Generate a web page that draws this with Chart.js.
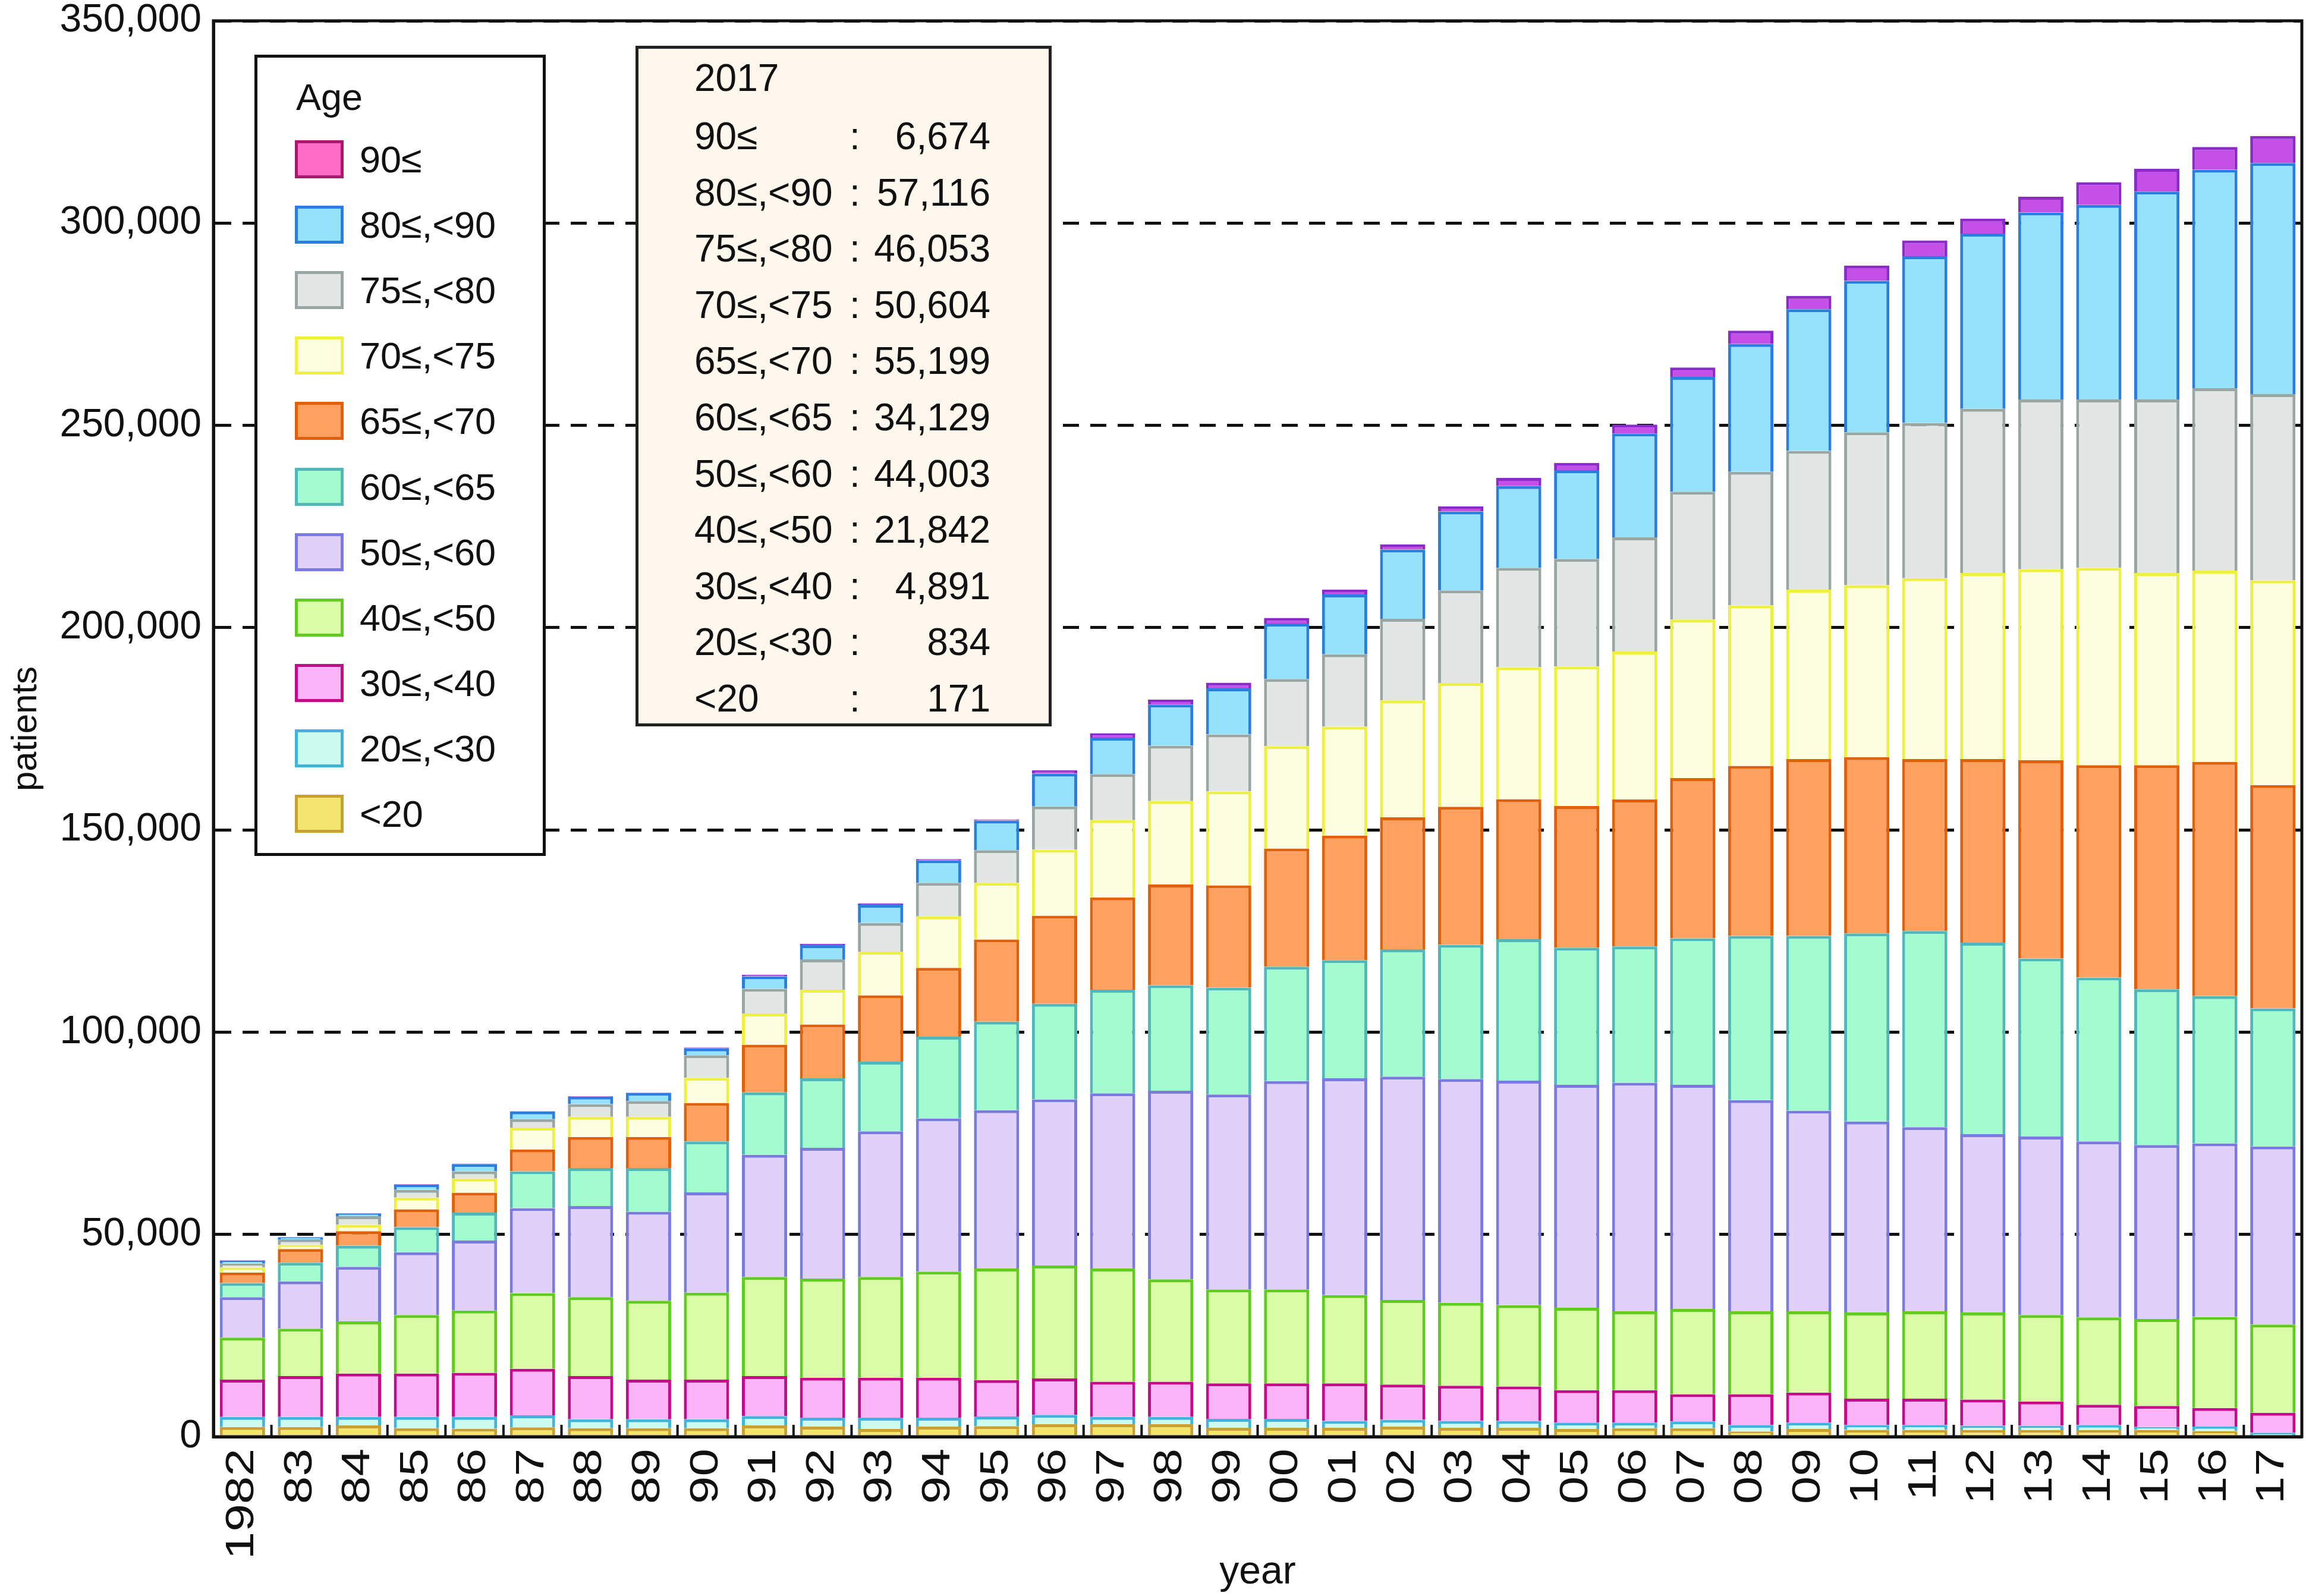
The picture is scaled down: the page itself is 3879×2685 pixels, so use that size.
<!DOCTYPE html>
<html>
<head>
<meta charset="utf-8">
<script src="https://cdn.jsdelivr.net/npm/chart.js@4.4.1/dist/chart.umd.min.js"></script>
<style>
  html, body { margin: 0; padding: 0; background: #fff; overflow: hidden; }
  #wrap { position: relative; width: 3879px; height: 2685px; color: #111;
          font-family: "Liberation Sans", Arial, Helvetica, sans-serif; }
  #plot { position: absolute; left: 0; top: 0; width: 3879px; height: 2685px; }
  .legend { position: absolute; left: 428px; top: 92px; width: 490px; height: 1348px;
            box-sizing: border-box; border: 5px solid #111; background: #fff; font-size: 63px; }
  .legend .ttl, .legend .lab { position: absolute; height: 80px; line-height: 80px; white-space: nowrap; }
  .legend .sw { position: absolute; left: 63px; width: 82px; height: 64px; box-sizing: border-box; border: 5px solid; }
  .info { position: absolute; left: 1069px; top: 77px; width: 700px; height: 1145px;
          box-sizing: border-box; border: 5px solid #222; background: #fdf7ee; font-size: 64px; }
  .info div { position: absolute; height: 80px; line-height: 80px; white-space: nowrap; }
  .info .num { right: 98px; text-align: right; }
  .info .col { left: 352px; width: 24px; text-align: center; }
</style>
</head>
<body>
<div id="wrap">
  <div id="plot"><canvas id="chart"></canvas></div>
  <div class="legend" id="legend"></div>
  <div class="info" id="info"></div>
</div>
<script>
// Patients by age group, 1982-2017 (2017 from the inset box)
const years = ['1982', '83', '84', '85', '86', '87', '88', '89', '90', '91', '92', '93', '94', '95', '96', '97', '98', '99',
               '00', '01', '02', '03', '04', '05', '06', '07', '08', '09', '10', '11', '12', '13', '14', '15', '16', '17'];

const ageUnder20 = [2400, 2400, 2800, 2100, 2000, 2300, 2100, 2100, 2100, 2800, 2500, 1900, 2500, 2600, 3100, 3100, 3100, 2200,
                    2200, 2200, 2500, 2200, 2200, 1900, 2100, 2100, 1300, 1900, 1700, 1700, 1600, 1600, 1600, 1700, 1400, 171];
const age20to29 = [2500, 2500, 2100, 2800, 2900, 3000, 2200, 2200, 2200, 2300, 2200, 2800, 2200, 2400, 2300, 1800, 1800, 2200,
                   2200, 1700, 1700, 1700, 1700, 1600, 1400, 1700, 1600, 1600, 1200, 1200, 1100, 1100, 1300, 700, 1100, 834];
const age30to39 = [9200, 10100, 10700, 10700, 10900, 11500, 10700, 9800, 9800, 9900, 9900, 9900, 9900, 9000, 9000, 8700, 8700, 8800,
                   8800, 9300, 8700, 8700, 8500, 8000, 8000, 6700, 7600, 7400, 6500, 6500, 6500, 6000, 5000, 5200, 4600, 4891];
const age40to49 = [10400, 11700, 12900, 14500, 15400, 18700, 19500, 19500, 21500, 24500, 24500, 24900, 26200, 27600, 27900, 28000, 25300, 23200,
                   23200, 21800, 20900, 20500, 20100, 20400, 19500, 21100, 20500, 20100, 21300, 21600, 21500, 21400, 21600, 21500, 22500, 21842];
const age50to59 = [10000, 11700, 13500, 15500, 17300, 21000, 22500, 22000, 24800, 30200, 32300, 36000, 37900, 39100, 41100, 43300, 46600, 48200,
                   51500, 53600, 55200, 55300, 55500, 55100, 56500, 55400, 52200, 49600, 47200, 45500, 44100, 44100, 43500, 43000, 42900, 44003];
const age60to64 = [3500, 4600, 5200, 6200, 6900, 9100, 9400, 10800, 12600, 15400, 17200, 17200, 20200, 21900, 23600, 25600, 26100, 26400,
                   28300, 29200, 31500, 33200, 35000, 33900, 33700, 36200, 40600, 43200, 46500, 48500, 47300, 44000, 40500, 38500, 36400, 34129];
const age65to69 = [2600, 3400, 3600, 4400, 4900, 5400, 7700, 7700, 9500, 11800, 13300, 16400, 17000, 20300, 21800, 22800, 24900, 25300,
                   29200, 30800, 32600, 34100, 34600, 35000, 36300, 39600, 42000, 43700, 43600, 42500, 45400, 49000, 52500, 55400, 57900, 55199];
const age70to74 = [1200, 1000, 1600, 2900, 3500, 5400, 5000, 5000, 6200, 7700, 8600, 10800, 12700, 14000, 16300, 19100, 20600, 23200,
                   25300, 26900, 28900, 30600, 32600, 34500, 36600, 39200, 39700, 41900, 42500, 44700, 46000, 47200, 48800, 47500, 47300, 50604];
const age75to79 = [1000, 1400, 2100, 1900, 1800, 2100, 3100, 3900, 5600, 6100, 7500, 7100, 8300, 8100, 10700, 11400, 13700, 14100,
                   16600, 17900, 20200, 22900, 24600, 26600, 28200, 31600, 33000, 34300, 37800, 38400, 40600, 42000, 41600, 42900, 45100, 46053];
const age80to89 = [700, 500, 700, 1300, 1800, 1900, 1900, 2000, 1700, 3100, 3500, 4500, 5600, 7300, 8100, 9000, 10200, 11400,
                   13700, 14800, 17100, 19500, 20200, 21900, 25700, 28400, 31600, 35000, 37400, 41200, 43300, 46200, 48100, 51400, 54000, 57116];
const age90plus = [100, 100, 100, 100, 100, 100, 100, 100, 200, 400, 300, 300, 300, 300, 800, 1100, 1200, 1400,
                   1400, 1200, 1300, 1300, 2000, 1800, 2200, 2300, 3300, 3300, 3800, 3900, 3700, 3900, 5600, 5600, 5600, 6674];

const ageLabels = ['<20', '20≤,<30', '30≤,<40', '40≤,<50', '50≤,<60', '60≤,<65', '65≤,<70', '70≤,<75', '75≤,<80', '80≤,<90', '90≤'];
const ageSeries = [ageUnder20, age20to29, age30to39, age40to49, age50to59, age60to64, age65to69, age70to74, age75to79, age80to89, age90plus];

const FILLS   = ['#f4e470', '#ccfcf0', '#fcb4f8', '#dafca6', '#e0d0fa', '#a2fcd0', '#fea060', '#fefee0', '#e2e6e4', '#94e2fc', '#c450e8'];
const BORDERS = ['#c8a034', '#40b4dc', '#c40c8a', '#60cc20', '#7a7ae0', '#50b8b8', '#e0600c', '#eef040', '#9aa6a4', '#2a7ee0', '#8c2cc8'];
// the key shows the oldest group in pink although its bars are violet
const KEY_FILL_90 = '#ff6cc8', KEY_BORDER_90 = '#a8186e';

const FONT = '"Liberation Sans", Arial, Helvetica, sans-serif';
const INK = '#111';

// frame, short ticks between the years, and the stretched year labels
const framePlugin = {
  id: 'frame',
  afterDraw(chart) {
    const { ctx, chartArea: a, scales: { x } } = chart;
    const half = (x.getPixelForValue(1) - x.getPixelForValue(0)) / 2;
    ctx.save();
    ctx.strokeStyle = INK;
    ctx.lineWidth = 4;
    ctx.beginPath();
    for (let i = 1; i < years.length; i++) {
      const px = x.getPixelForValue(i) - half;
      ctx.moveTo(px, a.bottom);
      ctx.lineTo(px, a.bottom - 20);
    }
    ctx.stroke();
    ctx.lineWidth = 5;
    ctx.strokeRect(a.left, a.top, a.right - a.left, a.bottom - a.top);

    ctx.fillStyle = INK;
    ctx.font = `66px ${FONT}`;
    ctx.textAlign = 'right';
    ctx.textBaseline = 'middle';
    years.forEach((lab, i) => {
      ctx.save();
      ctx.translate(x.getPixelForValue(i), a.bottom + 20);
      ctx.rotate(-Math.PI / 2);
      ctx.scale(1.27, 1);
      ctx.fillText(lab, 0, 0);
      ctx.restore();
    });
    ctx.restore();
  },
};

const datasets = ageSeries.map((data, i) => ({
  label: ageLabels[i],
  data,
  backgroundColor: FILLS[i],
  borderColor: BORDERS[i],
  borderWidth: 5,
}));

const chart = new Chart(document.getElementById('chart'), {
  type: 'bar',
  data: { labels: years, datasets },
  options: {
    responsive: true,
    maintainAspectRatio: false,
    animation: false,
    layout: { padding: { top: 35, right: 7, left: 0, bottom: 0 } },
    datasets: { bar: { barPercentage: 0.78, categoryPercentage: 1 } },
    plugins: { legend: { display: false }, tooltip: { enabled: false } },
    scales: {
      x: {
        stacked: true,
        grid: { display: false },
        border: { display: true, color: INK, width: 5 },
        ticks: { display: false },
        title: { display: true, text: 'year', color: INK, font: { size: 66, family: FONT }, padding: 0 },
        afterFit: s => { s.height = 268; s.paddingLeft = 0; s.paddingRight = 0; },
      },
      y: {
        stacked: true,
        min: 0,
        max: 350000,
        grid: { color: INK, lineWidth: 5, drawTicks: false },
        border: { display: true, color: INK, width: 5, dash: [27, 19] },
        ticks: { stepSize: 50000, padding: 20, color: INK, font: { size: 66, family: FONT },
                 callback: v => v.toLocaleString('en-US') },
        title: { display: true, text: 'patients', color: INK, font: { size: 60, family: FONT },
                 padding: { top: 8, bottom: 0 } },
        afterFit: s => { s.width = 359; s.paddingTop = 0; s.paddingBottom = 0; },
      },
    },
  },
  plugins: [framePlugin],
});

// key box, oldest group first
function buildLegend() {
  const box = document.getElementById('legend');
  const ttl = document.createElement('div');
  ttl.className = 'ttl';
  ttl.style.left = '65px';
  ttl.style.top = (66 - 40) + 'px';
  ttl.textContent = 'Age';
  box.appendChild(ttl);

  chart.data.datasets.slice().reverse().forEach((ds, i) => {
    const cy = 171 + i * 110.1;
    const sw = document.createElement('div');
    sw.className = 'sw';
    sw.style.top = (cy - 32) + 'px';
    sw.style.background = i === 0 ? KEY_FILL_90 : ds.backgroundColor;
    sw.style.borderColor = i === 0 ? KEY_BORDER_90 : ds.borderColor;
    const lab = document.createElement('div');
    lab.className = 'lab';
    lab.style.left = '172px';
    lab.style.top = (cy - 40) + 'px';
    lab.textContent = ds.label;
    box.appendChild(sw);
    box.appendChild(lab);
  });
}

// 2017 breakdown box
function buildInfo() {
  const box = document.getElementById('info');
  const last = years.length - 1;
  const add = (cls, text, css) => {
    const d = document.createElement('div');
    if (cls) d.className = cls;
    d.textContent = text;
    Object.assign(d.style, css);
    box.appendChild(d);
  };
  add('', '2017', { left: '94px', top: (49 - 40) + 'px' });
  ageSeries.slice().reverse().forEach((series, i) => {
    const top = (147 + i * 94.6 - 40) + 'px';
    add('', ageLabels[ageLabels.length - 1 - i], { left: '94px', top });
    add('col', ':', { top });
    add('num', series[last].toLocaleString('en-US'), { top });
  });
}

buildLegend();
buildInfo();
</script>
</body>
</html>
